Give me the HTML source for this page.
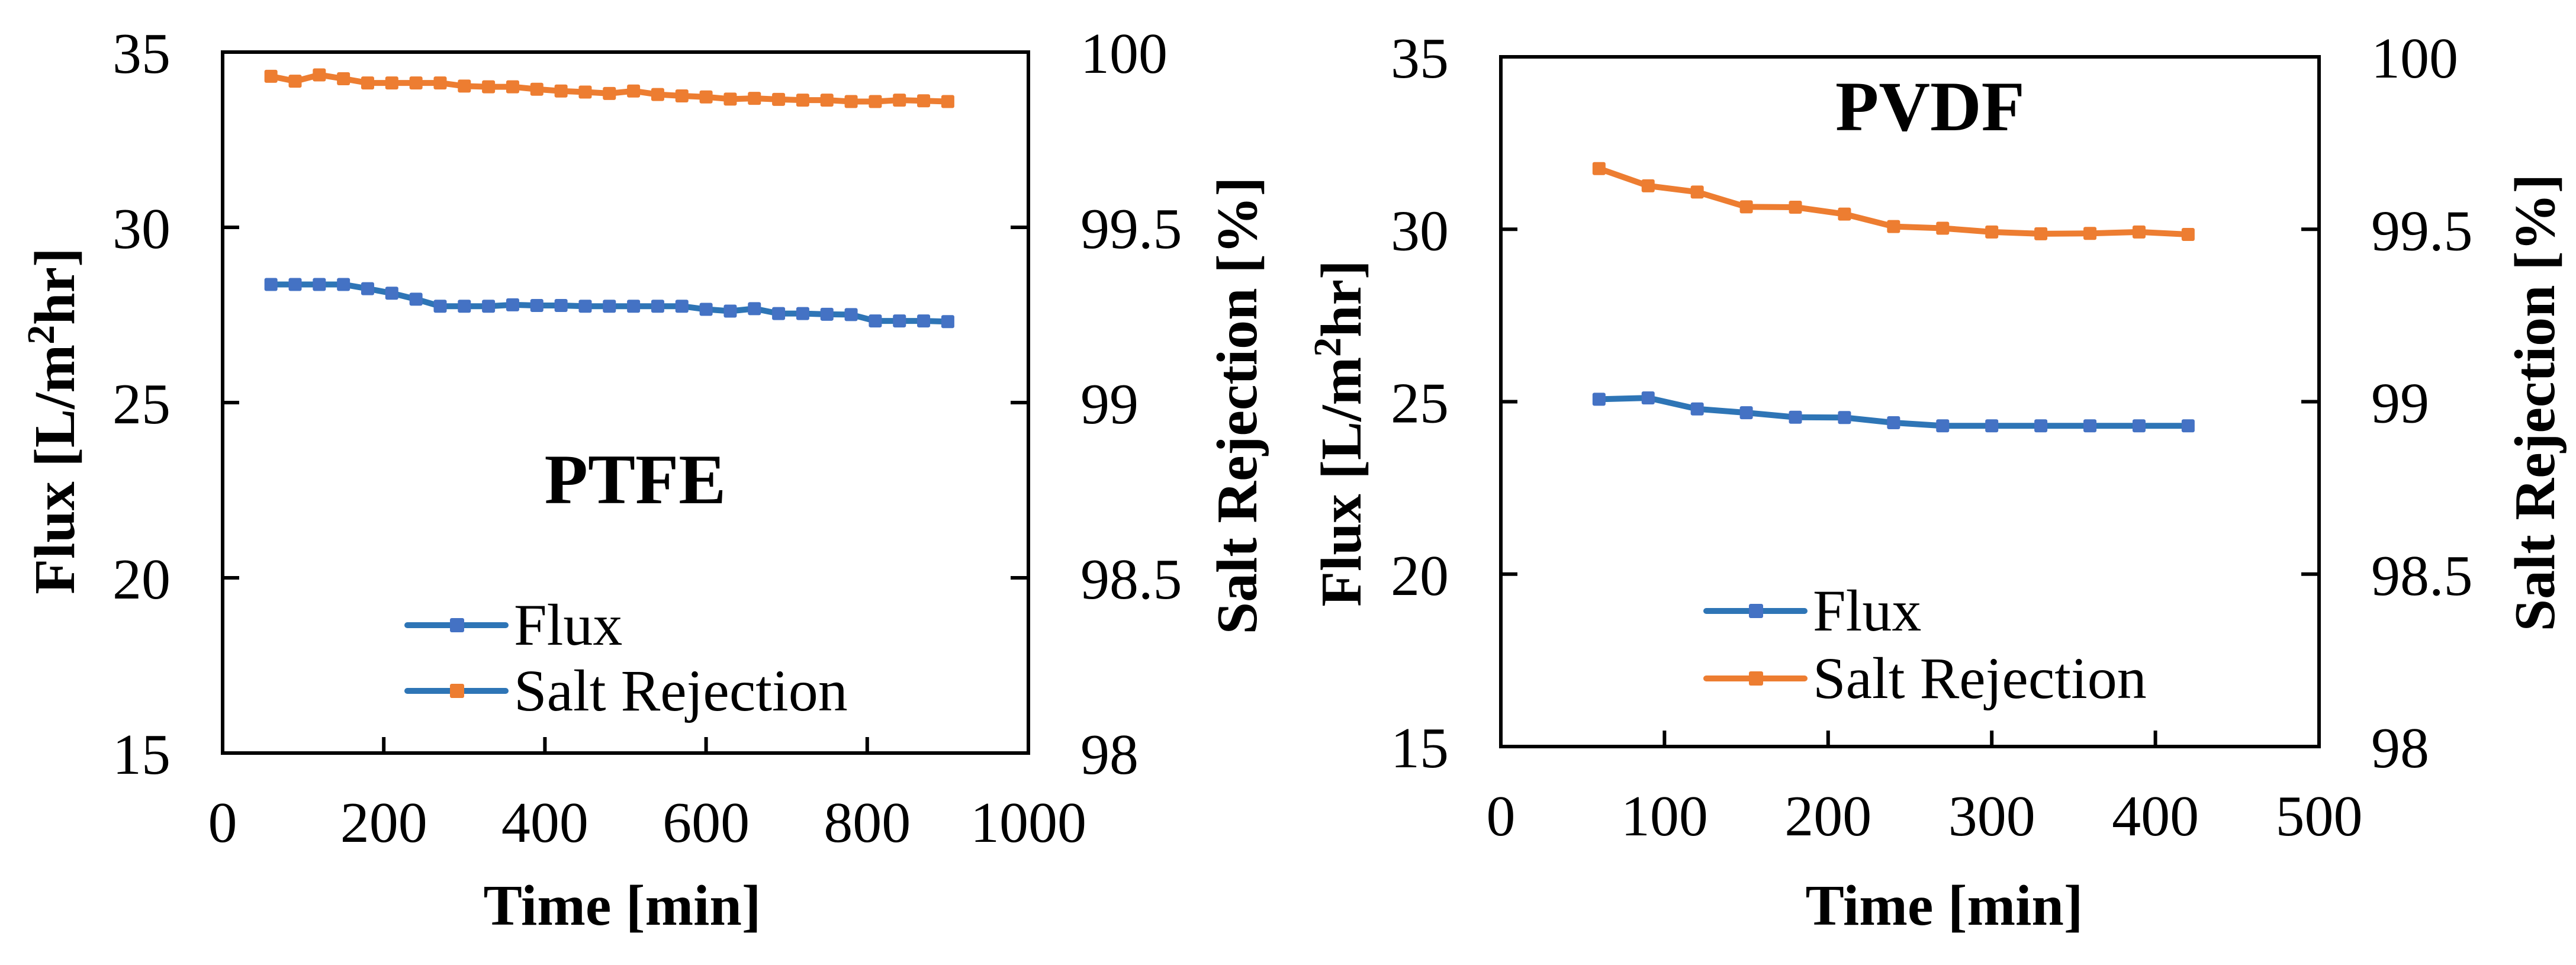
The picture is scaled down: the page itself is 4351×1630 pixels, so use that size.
<!DOCTYPE html>
<html><head><meta charset="utf-8">
<style>
html,body{margin:0;padding:0;background:#fff;}
svg{display:block;font-family:"Liberation Serif",serif;}
</style></head>
<body>
<svg id="chart" width="4351" height="1630" viewBox="0 0 4351 1630" xmlns="http://www.w3.org/2000/svg"></svg>
<script>
// PTFE panel data
const ptfeTime = [60,90,120,150,180,210,240,270,300,330,360,390,420,450,480,510,540,570,600,630,660,690,720,750,780,810,840,870,900];
const ptfeFlux = [28.37,28.37,28.37,28.37,28.25,28.12,27.95,27.75,27.75,27.75,27.79,27.77,27.77,27.75,27.75,27.75,27.75,27.75,27.66,27.61,27.68,27.54,27.54,27.52,27.51,27.33,27.33,27.33,27.31];
const ptfeSalt = [99.931,99.917,99.935,99.924,99.912,99.912,99.912,99.912,99.903,99.901,99.901,99.894,99.889,99.886,99.882,99.889,99.879,99.875,99.872,99.866,99.868,99.865,99.863,99.863,99.859,99.859,99.863,99.861,99.859];
// PVDF panel data
const pvdfTime = [60,90,120,150,180,210,240,270,300,330,360,390,420];
const pvdfFlux = [25.07,25.11,24.79,24.68,24.55,24.54,24.39,24.30,24.30,24.30,24.30,24.30,24.30];
const pvdfSalt = [99.676,99.626,99.608,99.565,99.564,99.544,99.508,99.503,99.492,99.487,99.488,99.492,99.485];
// axis ticks
const fluxTicks = [15,20,25,30,35];
const saltTicks = ["98","98.5","99","99.5","100"];
const ptfeXTicks = [0,200,400,600,800,1000];
const pvdfXTicks = [0,100,200,300,400,500];

const NS = "http://www.w3.org/2000/svg";
const svg = document.getElementById('chart');
const BLUE = "#4472C4", LBLUE = "#2E75B6", ORANGE = "#ED7D31";
function mk(tag, attrs, parent){
  const e = document.createElementNS(NS, tag);
  for (const k in attrs) e.setAttribute(k, attrs[k]);
  (parent||svg).appendChild(e);
  return e;
}
function panel(cfg){
  const g = mk('g', {});
  
  
  const L=cfg.L,R=cfg.R,T=cfg.T,B=cfg.B;
  const xS = v => L + (v - cfg.xmin)/(cfg.xmax - cfg.xmin)*(R-L);
  const yF = v => B - (v - 15)/20*(B-T);
  const yS = v => B - (v - 98)/2*(B-T);
  const fr = mk('rect', {x:L,y:T,width:R-L,height:B-T,fill:'none',stroke:'#000','stroke-width':6}, g);
  
  
  fluxTicks.forEach(v=>{
    const y = yF(v);
    mk('line',{x1:L,x2:L+28,y1:y,y2:y,stroke:'#000','stroke-width':6},g);
    const t = mk('text',{x:L-88,y:y+35,'text-anchor':'end','font-size':98},g);
    t.textContent = v;
    
    
  });
  saltTicks.forEach(s=>{
    const y = yS(parseFloat(s));
    mk('line',{x1:R-30,x2:R,y1:y,y2:y,stroke:'#000','stroke-width':6},g);
    const t = mk('text',{x:R+88,y:y+35,'text-anchor':'start','font-size':98},g);
    t.textContent = s;
    
    
  });
  cfg.xticks.forEach(v=>{
    const x = xS(v);
    mk('line',{x1:x,x2:x,y1:B-27,y2:B,stroke:'#000','stroke-width':6},g);
    const t = mk('text',{x:x,y:B+150,'text-anchor':'middle','font-size':98},g);
    t.textContent = v;
    
    
  });
  function series(xs, ys, ysc, lineColor, markColor, nm){
    const pts = xs.map((x,i)=>xS(x)+','+ysc(ys[i])).join(' ');
    const pl = mk('polyline',{points:pts,fill:'none',stroke:lineColor,'stroke-width':10,'stroke-linejoin':'round'},g);
    
    
    xs.forEach((x,i)=>{
      const r = mk('rect',{x:xS(x)-11,y:ysc(ys[i])-11,width:22,height:22,rx:3,fill:markColor},g);
      
      
    });
  }
  series(cfg.time, cfg.flux, yF, LBLUE, BLUE, 'flux');
  series(cfg.time, cfg.salt, yS, cfg.saltLine, ORANGE, 'salt-rejection');
  function legend(y, lc, mc, label, nm){
    const lg = mk('g',{},g);
    
    
    mk('line',{x1:cfg.legX,x2:cfg.legX+166,y1:y,y2:y,stroke:lc,'stroke-width':10,'stroke-linecap':'round'},lg);
    mk('rect',{x:cfg.legX+72,y:y-12,width:24,height:24,rx:3,fill:mc},lg);
    const t = mk('text',{x:cfg.legX+180,y:y+33,'font-size':100},lg);
    t.textContent = label;
  }
  legend(cfg.legY1, LBLUE, BLUE, 'Flux', 'legend-flux');
  legend(cfg.legY2, cfg.legSaltLine, ORANGE, 'Salt Rejection', 'legend-salt-rejection');
  const xt = mk('text',{x:cfg.xtX,y:1562,'text-anchor':'middle','font-size':98,'font-weight':'bold'},g);
  xt.textContent = 'Time [min]';
  
  
  const yt = mk('text',{transform:`translate(${cfg.ytX},${cfg.ytY}) rotate(-90)`,'text-anchor':'middle','font-size':98,'font-weight':'bold'},g);
  yt.innerHTML = 'Flux [L/m<tspan dy="-34" font-size="66">2</tspan><tspan dy="34">hr]</tspan>';
  
  
  const st = mk('text',{transform:`translate(${cfg.stX},${cfg.stY}) rotate(-90)`,'text-anchor':'middle','font-size':98,'font-weight':'bold'},g);
  st.textContent = 'Salt Rejection [%]';
  
  
  const pl = mk('text',{x:cfg.labX,y:cfg.labY,'text-anchor':'middle','font-size':120,'font-weight':'bold'},g);
  pl.textContent = cfg.name.toUpperCase();
  
  
}
panel({name:'ptfe',L:376,R:1737,T:88,B:1272,xmin:0,xmax:1000,xticks:ptfeXTicks,
  time:ptfeTime,flux:ptfeFlux,salt:ptfeSalt,saltLine:ORANGE,legSaltLine:LBLUE,
  legX:688,legY1:1056,legY2:1167,ytX:125,ytY:711,stX:2122,stY:685,xtX:1051,labX:1073,labY:850});
panel({name:'pvdf',L:2535,R:3917,T:96,B:1261,xmin:0,xmax:500,xticks:pvdfXTicks,
  time:pvdfTime,flux:pvdfFlux,salt:pvdfSalt,saltLine:ORANGE,legSaltLine:ORANGE,
  legX:2882,legY1:1032,legY2:1146,ytX:2298,ytY:732,stX:4314,stY:680,xtX:3284,labX:3260,labY:220});
</script>
</body></html>
